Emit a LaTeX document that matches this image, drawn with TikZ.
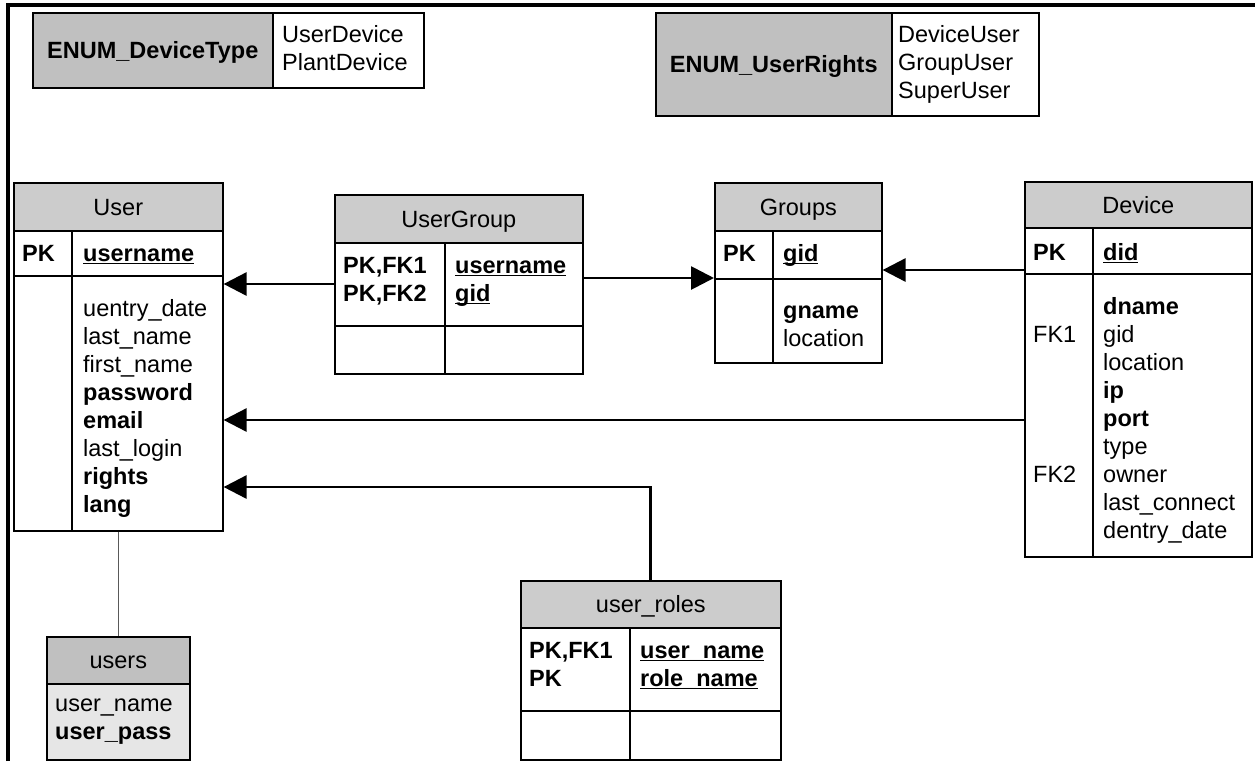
\documentclass[tikz,border=0pt]{standalone}
\usepackage{fontspec}
\setmainfont{Liberation Sans}
\usetikzlibrary{arrows.meta}

% underlined key column name
\newlength\keyw
\newcommand\keyname[1]{\settowidth\keyw{#1}\rlap{\rule[-3.2pt]{\keyw}{1.8pt}}#1}

\definecolor{hdrgray}{RGB}{204,204,204}
\definecolor{enumgray}{RGB}{192,192,192}
\definecolor{viewgray}{RGB}{230,230,230}

\tikzset{
  x=1pt, y=-1pt,
  every node/.style={font=\fontsize{23.5}{28}\selectfont},
  cell/.style={draw=black, line width=1.6pt, anchor=north west, inner sep=0pt},
  hdr/.style={cell, fill=hdrgray, text height=17pt, text depth=0pt},
  enumbox/.style={cell, fill=enumgray, text height=17pt, text depth=0pt, font=\fontsize{23.5}{28}\selectfont\bfseries},
  txt/.style={anchor=north west, inner sep=0pt, align=left},
  fk/.style={line width=2.8pt, -{Triangle[length=23pt,width=23pt]}},
  viewlink/.style={line width=1.2pt, draw=black!65},
  frame/.style={line width=3.4pt},
}

\begin{document}
\begin{tikzpicture}
\useasboundingbox (0,0) rectangle (1255,761);

% page frame
\draw[frame] (8,761) -- (8,5) -- (1255,5);

% ---- enumerations ----
\node[enumbox, minimum width=240pt, minimum height=75pt] (edt) at (32,12) {ENUM\_DeviceType};
\node[cell, fill=white, minimum width=151pt, minimum height=75pt] (edtv) at (272,12) {};
\node[txt] (edtt) at (282,22.4) {\strut UserDevice\\PlantDevice};

\node[enumbox, minimum width=236pt, minimum height=103pt] (eur) at (655,12) {ENUM\_UserRights};
\node[cell, fill=white, minimum width=147pt, minimum height=103pt] (eurv) at (891,12) {};
\node[txt] (eurt) at (898,22.4) {\strut DeviceUser\\GroupUser\\SuperUser};

% ---- User ----
\node[cell, minimum width=209pt, minimum height=348pt] (user) at (13,182) {};
\node[hdr, minimum width=209pt, minimum height=48pt] (userh) at (13,182) {User};
\node[cell, minimum width=209pt, minimum height=45pt] (userpk) at (13,230) {};
\draw[line width=1.6pt] (userpk.north west -| 72,0) -- (user.south west -| 72,0);
\node[txt, font=\fontsize{23.5}{28}\selectfont\bfseries] (userk) at (22,241.4) {\strut PK};
\node[txt, font=\fontsize{23.5}{28}\selectfont\bfseries] (userkn) at (83,241.4) {\strut\keyname{username}};
\node[txt] (usera) at (83,296.4) {\strut uentry\_date\\last\_name\\first\_name\\\textbf{password}\\\textbf{email}\\last\_login\\\textbf{rights}\\\textbf{lang}};

% ---- users (view) ----
\node[cell, fill=viewgray, minimum width=143pt, minimum height=123pt] (users) at (46,636) {};
\node[cell, fill=enumgray, minimum width=143pt, minimum height=47pt, text height=17pt, text depth=0pt] (usersh) at (46,636) {users};
\node[txt] (usersa) at (55,691.4) {\strut user\_name\\\textbf{user\_pass}};

% ---- UserGroup ----
\node[cell, minimum width=248pt, minimum height=179pt] (ug) at (334,194) {};
\node[hdr, minimum width=248pt, minimum height=48pt] (ugh) at (334,194) {UserGroup};
\node[cell, minimum width=248pt, minimum height=83pt] (ugpk) at (334,242) {};
\draw[line width=1.6pt] (ugpk.north west -| 445,0) -- (ug.south west -| 445,0);
\node[txt, font=\fontsize{23.5}{28}\selectfont\bfseries] (ugk) at (343,253.4) {\strut PK,FK1\\PK,FK2};
\node[txt, font=\fontsize{23.5}{28}\selectfont\bfseries] (ugkn) at (455,253.4) {\strut\keyname{username}\\\keyname{gid}};

% ---- Groups ----
\node[cell, minimum width=167pt, minimum height=180pt] (grp) at (714,182) {};
\node[hdr, minimum width=167pt, minimum height=48pt] (grph) at (714,182) {Groups};
\node[cell, minimum width=167pt, minimum height=48pt] (grppk) at (714,230) {};
\draw[line width=1.6pt] (grppk.north west -| 773,0) -- (grp.south west -| 773,0);
\node[txt, font=\fontsize{23.5}{28}\selectfont\bfseries] (grpk) at (723,241.4) {\strut PK};
\node[txt, font=\fontsize{23.5}{28}\selectfont\bfseries] (grpkn) at (783,241.4) {\strut\keyname{gid}};
\node[txt] (grpa) at (783,298.4) {\strut\textbf{gname}\\location};

% ---- Device ----
\node[cell, minimum width=227pt, minimum height=375pt] (dev) at (1024,181) {};
\node[hdr, minimum width=227pt, minimum height=46pt] (devh) at (1024,181) {Device};
\node[cell, minimum width=227pt, minimum height=46pt] (devpk) at (1024,227) {};
\draw[line width=1.6pt] (devpk.north west -| 1093,0) -- (dev.south west -| 1093,0);
\node[txt, font=\fontsize{23.5}{28}\selectfont\bfseries] (devk) at (1033,240.4) {\strut PK};
\node[txt, font=\fontsize{23.5}{28}\selectfont\bfseries] (devkn) at (1103,240.4) {\strut\keyname{did}};
\node[txt] (devf1) at (1033,322.4) {\strut FK1};
\node[txt] (devf2) at (1033,462.4) {\strut FK2};
\node[txt] (deva) at (1103,294.4) {\strut\textbf{dname}\\gid\\location\\\textbf{ip}\\\textbf{port}\\type\\owner\\last\_connect\\dentry\_date};

% ---- user_roles ----
\node[cell, minimum width=260pt, minimum height=179pt] (ur) at (520,580) {};
\node[hdr, minimum width=260pt, minimum height=47pt] (urh) at (520,580) {user\_roles};
\node[cell, minimum width=260pt, minimum height=83pt] (urpk) at (520,627) {};
\draw[line width=1.6pt] (urpk.north west -| 630,0) -- (ur.south west -| 630,0);
\node[txt, font=\fontsize{23.5}{28}\selectfont\bfseries] (urk) at (529,638.4) {\strut PK,FK1\\PK};
\node[txt, font=\fontsize{23.5}{28}\selectfont\bfseries] (urkn) at (640,638.4) {\strut\keyname{user\_name}\\\keyname{role\_name}};

% ---- relationships ----
\coordinate (yug) at (0,284);
\coordinate (ygrp) at (0,278);
\coordinate (ydev) at (0,270);
\coordinate (ymail) at (0,420);
\coordinate (yroles) at (0,487);

\draw[fk] (ug.west |- yug) -- (user.east |- yug);
\draw[fk] (ug.east |- ygrp) -- (grp.west |- ygrp);
\draw[fk] (dev.west |- ydev) -- (grp.east |- ydev);
\draw[fk] (dev.west |- ymail) -- (user.east |- ymail);
\draw[fk] (ur.north) |- (user.east |- yroles);
\draw[viewlink] (user.south) -- (users.north);
\end{tikzpicture}
\end{document}
